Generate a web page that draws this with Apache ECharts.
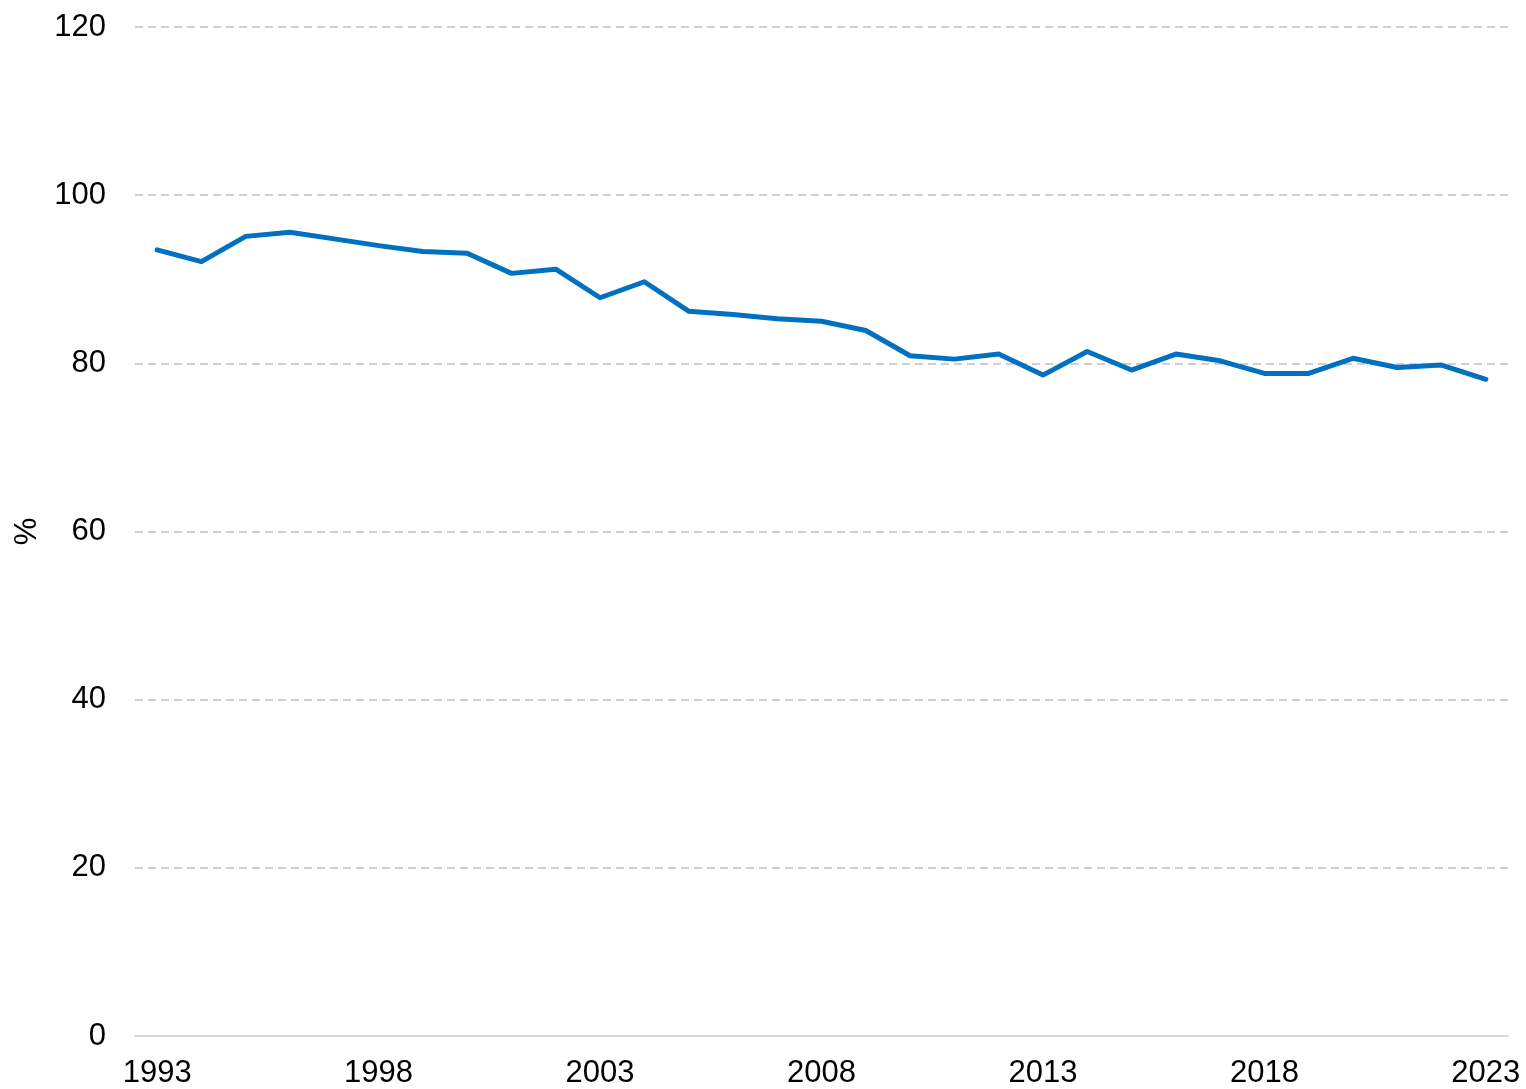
<!DOCTYPE html>
<html>
<head>
<meta charset="utf-8">
<script src="https://cdn.jsdelivr.net/npm/echarts@6/dist/echarts.min.js"></script>
<style>
html, body { margin: 0; padding: 0; background: #fff; }
#main { width: 1526px; height: 1089px; }
</style>
</head>
<body>
<div id="main"></div>
<script>
var years = [];
for (var y = 1993; y <= 2023; y++) years.push(String(y));

var share = [93.5, 92.1, 95.1, 95.6, 94.8, 94.0, 93.3, 93.1, 90.7, 91.2,
             87.8, 89.7, 86.2, 85.8, 85.3, 85.0, 83.9, 80.9, 80.5, 81.1,
             78.6, 81.4, 79.2, 81.1, 80.3, 78.8, 78.8, 80.6, 79.5, 79.8, 78.1];

var yTicks = { min: 0, max: 120, interval: 20 };

var myChart = echarts.init(document.getElementById('main'));

var option = {
    animation: false,
    textStyle: { fontFamily: 'Liberation Sans, Arial, sans-serif' },
    grid: { left: 135, right: 18, top: 27, bottom: 52, containLabel: false },
    xAxis: {
        type: 'category',
        data: years,
        boundaryGap: true,
        axisLine: { lineStyle: { color: '#d9d9d9', width: 2 } },
        axisTick: { show: false },
        axisLabel: {
            interval: 4,
            margin: 22,
            color: '#000',
            fontSize: 31,
            fontFamily: 'Liberation Sans'
        }
    },
    yAxis: {
        type: 'value',
        min: yTicks.min,
        max: yTicks.max,
        interval: yTicks.interval,
        name: '%',
        nameLocation: 'middle',
        nameGap: 92,
        nameTextStyle: { color: '#000', fontSize: 31, fontFamily: 'Liberation Sans' },
        axisLine: { show: false },
        axisTick: { show: false },
        axisLabel: { margin: 29, color: '#000', fontSize: 31, fontFamily: 'Liberation Sans' },
        splitLine: { lineStyle: { color: '#c0c0c0', width: 1.5, type: [8, 5] } }
    },
    series: [{
        type: 'line',
        data: share,
        symbol: 'none',
        lineStyle: { color: '#0070c0', width: 5, cap: 'round', join: 'round' },
        itemStyle: { color: '#0070c0' }
    }]
};

myChart.setOption(option);
</script>
</body>
</html>
